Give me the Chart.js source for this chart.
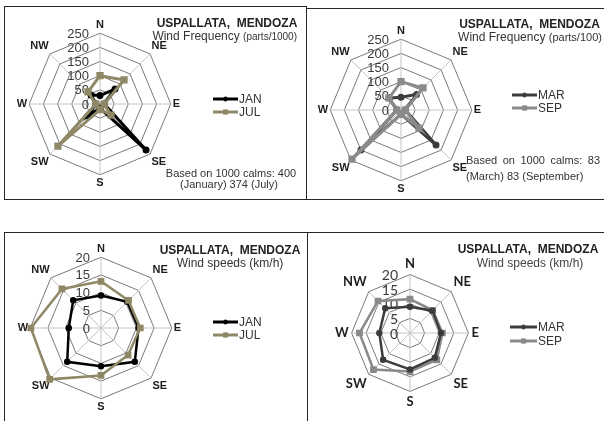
<!DOCTYPE html>
<html>
<head>
<meta charset="utf-8">
<script src="https://cdn.jsdelivr.net/npm/chart.js@4.4.1/dist/chart.umd.min.js"></script>
<style>
body { margin: 0; background: #fff; width: 604px; height: 421px; overflow: hidden; position: relative; }
canvas { position: absolute; }
.box { position: absolute; box-sizing: border-box; border: 0 solid #262626; }
</style>
</head>
<body>
<div class="box" style="left:4px;top:6px;width:303px;height:194px;border-width:1px"></div>
<div class="box" style="left:306px;top:8px;width:298px;height:192px;border-width:1px 0 1px 0"></div>
<div class="box" style="left:4px;top:232px;width:304px;height:200px;border-width:1px 1px 0 1px"></div>
<div class="box" style="left:307px;top:232px;width:297px;height:189px;border-width:1px 0 0 0"></div>
<canvas id="c1" width="302" height="193" style="left:4px;top:6px"></canvas>
<canvas id="c2" width="298" height="191" style="left:306px;top:8px"></canvas>
<canvas id="c3" width="303" height="189" style="left:4px;top:232px"></canvas>
<canvas id="c4" width="297" height="189" style="left:307px;top:232px"></canvas>
<script>
'use strict';

// compass directions, clockwise from north
const directions = ['N', 'NE', 'E', 'SE', 'S', 'SW', 'W', 'NW'];

// radial tick labels
const freqTicks = [0, 50, 100, 150, 200, 250];
const speedTicks = [0, 5, 10, 15, 20];

// wind frequency (parts/1000)
const freqJan = [30, 75, 15, 230, 15, 60, 15, 45];
const freqJul = [100, 120, 15, 55, 20, 210, 15, 60];
const freqMar = [45, 78, 15, 175, 15, 200, 15, 60];
const freqSep = [100, 110, 15, 90, 15, 245, 15, 60];

// wind speeds (km/h)
const speedJan = [9.2, 10.5, 10.6, 13.5, 10.8, 13.5, 9.1, 11.1];
const speedJul = [13.2, 11, 11.1, 10.8, 13.4, 20.5, 19.8, 15.6];
const speedMar = [9, 10.8, 10.6, 12, 12.5, 13, 10.5, 12];
const speedSep = [11.6, 11, 11.1, 13, 13.2, 17.7, 17.3, 15.5];

const ARIAL = '"Liberation Sans", Arial, sans-serif';
Chart.defaults.font.family = ARIAL;

// draws the tick labels left of the north spoke, the titles and the legend
const panelText = {
    id: 'panelText',
    beforeDatasetsDraw(chart, args, o) {
        const s = chart.scales.r;
        const ctx = chart.ctx;
        ctx.save();
        ctx.font = o.tickFont;
        ctx.fillStyle = o.tickColor;
        ctx.textAlign = 'right';
        ctx.textBaseline = 'middle';
        for (const t of s.ticks) {
            ctx.fillText(t.label, s.xCenter - o.tickGap, s.yCenter - s.getDistanceFromCenterForValue(t.value) + 1);
        }
        ctx.restore();
    },
    afterDraw(chart, args, o) {
        const ctx = chart.ctx;
        ctx.save();
        ctx.textBaseline = 'alphabetic';
        for (const l of o.lines) {
            ctx.fillStyle = l.color || '#222';
            if (l.justify) {
                const words = l.parts[0][0].split(' ');
                ctx.font = l.parts[0][1];
                const used = words.reduce((a, w) => a + ctx.measureText(w).width, 0);
                const gap = (l.justify - used) / (words.length - 1);
                let x = l.x - o.left;
                for (const w of words) {
                    ctx.fillText(w, x, l.y - o.top);
                    x += ctx.measureText(w).width + gap;
                }
                continue;
            }
            let total = 0;
            for (const [txt, font] of l.parts) {
                ctx.font = font;
                total += ctx.measureText(txt).width;
            }
            let x = l.x - o.left;
            if (l.align === 'center') x -= total / 2;
            if (l.align === 'right') x -= total;
            for (const [txt, font] of l.parts) {
                ctx.font = font;
                ctx.fillText(txt, x, l.y - o.top);
                x += ctx.measureText(txt).width;
            }
        }

        // legend: line with marker, then the series name
        const lg = o.legend;
        lg.names.forEach((name, i) => {
            const ds = chart.data.datasets.find(d => d.label === name);
            const y = lg.y[i] - o.top;
            const x0 = lg.x0 - o.left, x1 = lg.x1 - o.left;
            ctx.strokeStyle = ds.borderColor;
            ctx.fillStyle = ds.borderColor;
            ctx.lineWidth = lg.lineWidth;
            ctx.beginPath();
            ctx.moveTo(x0, y);
            ctx.lineTo(x1, y);
            ctx.stroke();
            ctx.lineWidth = 1;
            Chart.helpers.drawPoint(ctx, {pointStyle: ds.pointStyle, radius: ds.pointRadius, rotation: 0, borderWidth: 1}, (x0 + x1) / 2, y);
            ctx.font = lg.font;
            ctx.fillStyle = lg.color;
            ctx.textBaseline = 'middle';
            ctx.fillText(ds.label, x1 + 1, y + 1);
            ctx.textBaseline = 'alphabetic';
        });
        ctx.restore();
    }
};

function series(label, data, color, style, radius, width, order) {
    return {
        label: label,
        data: data,
        borderColor: color,
        backgroundColor: color,
        pointBackgroundColor: color,
        pointBorderColor: color,
        pointStyle: style,
        pointRadius: radius,
        borderWidth: width,
        fill: false,
        order: order
    };
}

function drawRose(p) {
    // square chart area so the scale lands on the wanted centre and radius
    const labelRoom = p.labelPad + p.labelSize * 1.2;
    const half = Math.round(p.r + labelRoom);
    const left = p.cx - p.left - half;
    const top = p.cy - p.top - half;
    const canvas = document.getElementById(p.id);

    const config = {
        type: 'radar',
        data: {
            labels: directions,
            datasets: p.datasets
        },
        options: {
            responsive: false,
            animation: false,
            layout: {
                padding: {
                    left: left,
                    top: top,
                    right: canvas.width - left - 2 * half,
                    bottom: canvas.height - top - 2 * half
                }
            },
            plugins: {
                legend: { display: false },
                title: { display: false },
                tooltip: { enabled: false },
                panelText: {
                    left: p.left,
                    top: p.top,
                    tickFont: p.tickFont,
                    tickColor: '#3a3a3a',
                    tickGap: p.tickGap,
                    lines: p.lines,
                    legend: p.legend
                }
            },
            scales: {
                r: {
                    min: p.ticks[0],
                    max: p.ticks[p.ticks.length - 1],
                    ticks: {
                        display: false,
                        stepSize: p.ticks[1] - p.ticks[0]
                    },
                    grid: { color: '#7a7a7a', lineWidth: 1 },
                    angleLines: { color: '#c4c4c4', lineWidth: 1 },
                    pointLabels: {
                        padding: p.labelPad,
                        color: '#1e1e1e',
                        font: { family: p.labelFamily, weight: 'bold', size: p.labelSize }
                    }
                }
            }
        },
        plugins: [panelText]
    };
    return new Chart(canvas, config);
}

const OLIVE = '#8f8866';
const DARK = '#3c3c3c';
const GREY = '#8a8a8a';
const titleFont = 'bold 12px ' + ARIAL;
const subFont = '12px ' + ARIAL;
const noteFont = '11px ' + ARIAL;

drawRose({
    id: 'c1', left: 4, top: 6, cx: 99, cy: 104, r: 71,
    ticks: freqTicks, tickFont: '13px ' + ARIAL, tickGap: 11,
    labelFamily: ARIAL, labelSize: 11, labelPad: 2,
    datasets: [
        series('JUL', freqJul, OLIVE, 'rect', 3, 3, 0),
        series('JAN', freqJan, '#000000', 'circle', 2, 3, 1)
    ],
    lines: [
        { parts: [['USPALLATA,  MENDOZA', titleFont]], x: 227, y: 27, align: 'center' },
        { parts: [['Wind Frequency ', subFont], ['(parts/1000)', '10px ' + ARIAL]], x: 297, y: 39.5, align: 'right', color: '#333' },
        { parts: [['Based on 1000 calms: 400', noteFont]], x: 231, y: 177, align: 'center', color: '#333' },
        { parts: [['(January) 374 (July)', noteFont]], x: 229, y: 188, align: 'center', color: '#333' }
    ],
    legend: { names: ['JAN', 'JUL'], x0: 213, x1: 238, y: [99, 112], lineWidth: 3, font: '12px ' + ARIAL, color: '#333' }
});

drawRose({
    id: 'c2', left: 306, top: 8, cx: 400, cy: 110, r: 71,
    ticks: freqTicks, tickFont: '13px ' + ARIAL, tickGap: 12,
    labelFamily: ARIAL, labelSize: 11, labelPad: 2,
    datasets: [
        series('SEP', freqSep, GREY, 'rect', 3, 3, 0),
        series('MAR', freqMar, DARK, 'circle', 2, 3, 1)
    ],
    lines: [
        { parts: [['USPALLATA,  MENDOZA', titleFont]], x: 529.5, y: 28, align: 'center' },
        { parts: [['Wind Frequency ', subFont], ['(parts/100)', '11px ' + ARIAL]], x: 530, y: 41, align: 'center', color: '#333' },
        { parts: [['Based on 1000 calms: 83', noteFont]], x: 466, y: 164, justify: 134, color: '#333' },
        { parts: [['(March) 83 (September)', noteFont]], x: 466, y: 180, align: 'left', color: '#333' }
    ],
    legend: { names: ['MAR', 'SEP'], x0: 512, x1: 537, y: [95, 108], lineWidth: 3, font: '12px ' + ARIAL, color: '#333' }
});

drawRose({
    id: 'c3', left: 4, top: 232, cx: 100, cy: 328, r: 71,
    ticks: speedTicks, tickFont: '13px ' + ARIAL, tickGap: 11,
    labelFamily: ARIAL, labelSize: 11, labelPad: 2,
    datasets: [
        series('JUL', speedJul, OLIVE, 'rect', 3, 2.5, 0),
        series('JAN', speedJan, '#000000', 'circle', 2, 2.5, 1)
    ],
    lines: [
        { parts: [['USPALLATA,  MENDOZA', titleFont]], x: 230, y: 253.5, align: 'center' },
        { parts: [['Wind speeds (km/h)', subFont]], x: 230, y: 267, align: 'center', color: '#333' }
    ],
    legend: { names: ['JAN', 'JUL'], x0: 213, x1: 238, y: [322, 335], lineWidth: 3, font: '12px ' + ARIAL, color: '#333' }
});

drawRose({
    id: 'c4', left: 307, top: 232, cx: 407, cy: 333, r: 58.5,
    ticks: speedTicks, tickFont: '14px Lato, sans-serif', tickGap: 12,
    labelFamily: 'Lato, sans-serif', labelSize: 13, labelPad: 3,
    datasets: [
        series('SEP', speedSep, GREY, 'rect', 3, 2.5, 1),
        series('MAR', speedMar, DARK, 'circle', 2, 2.5, 0)
    ],
    lines: [
        { parts: [['USPALLATA,  MENDOZA', titleFont]], x: 528, y: 253, align: 'center' },
        { parts: [['Wind speeds (km/h)', subFont]], x: 530, y: 267, align: 'center', color: '#444' }
    ],
    legend: { names: ['MAR', 'SEP'], x0: 510, x1: 537, y: [327, 341], lineWidth: 3, font: '12px ' + ARIAL, color: '#333' }
});
</script>
</body>
</html>
